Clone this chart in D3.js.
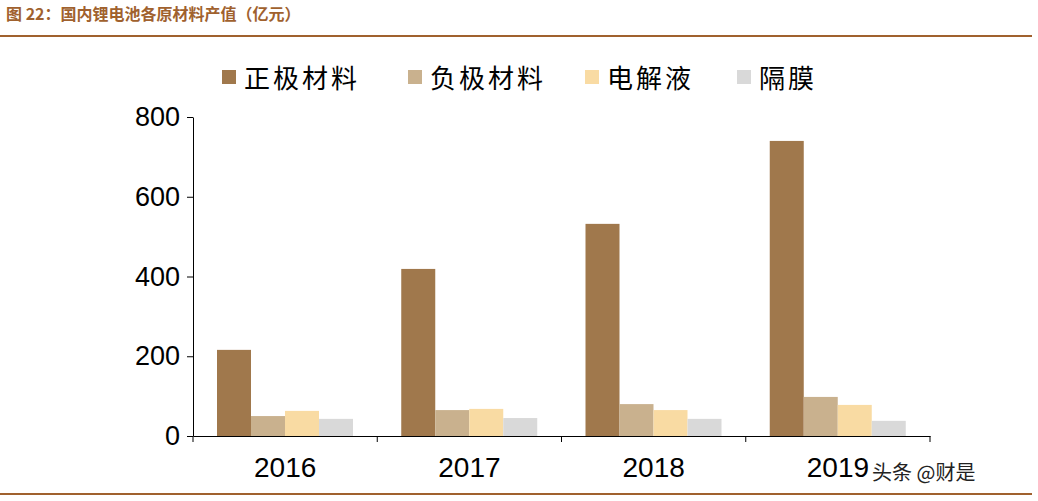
<!DOCTYPE html>
<html><head><meta charset="utf-8">
<script src="https://cdn.jsdelivr.net/npm/d3@7"></script>
<style>body{margin:0;background:#fff}</style></head>
<body><svg id="c" width="1038" height="501"></svg>
<script>
const categories=["2016","2017","2018","2019"];
const seriesNames=["正极材料","负极材料","电解液","隔膜"];
const cathode=[216,419,532,740];
const anode=[50,65,80,98];
const electrolyte=[63,68,65,78];
const separator=[43,45,43,38];
const yTicks=[0,200,400,600,800];
const colors=["#A0784C","#C9B18E","#F9DBA3","#D9D9D9"];
const series=[cathode,anode,electrolyte,separator];

const svg=d3.select("#c");
const font="Liberation Sans, Arial, sans-serif";
const cjk="Noto Sans CJK SC, sans-serif";
svg.append("text").attr("x",6).attr("y",20).attr("fill","#A0612E").attr("font-weight","bold")
 .attr("font-family",cjk).attr("font-size",16).text("图 22：国内锂电池各原材料产值（亿元）");
svg.append("line").attr("x1",0).attr("x2",1032).attr("y1",36).attr("y2",36).attr("stroke","#A0612E").attr("stroke-width",2);
svg.append("line").attr("x1",0).attr("x2",1032).attr("y1",494).attr("y2",494).attr("stroke","#A0612E").attr("stroke-width",2);

const x=d3.scaleBand().domain(categories).range([193,930]).paddingInner(0).paddingOuter(0);
const xs=d3.scaleBand().domain(d3.range(4)).range([24,160]).padding(0);
const y=d3.scaleLinear().domain([0,800]).range([436,117]);

const g=svg.append("g");
series.forEach((vals,si)=>{
 g.selectAll(null).data(vals).enter().append("rect")
  .attr("x",(d,i)=>x(categories[i])+xs(si)).attr("width",xs.bandwidth())
  .attr("y",d=>y(d)).attr("height",d=>y(0)-y(d)).attr("fill",colors[si]);
});
const ya=svg.append("g").attr("transform","translate(193,0)")
 .call(d3.axisLeft(y).tickValues(yTicks).tickSize(6).tickSizeOuter(0));
ya.selectAll("text").attr("font-family",font).attr("font-size",27).attr("fill","#000").attr("dx","-4");
const xa=svg.append("g").attr("transform","translate(0,436)")
 .call(d3.axisBottom(x).tickSize(0).tickSizeOuter(0));
xa.selectAll("text").attr("font-family",font).attr("font-size",28).attr("fill","#000").attr("dy","1.35em");
[...categories.map(c=>x(c)),930].forEach(v=>svg.append("line").attr("x1",v).attr("x2",v).attr("y1",436).attr("y2",442).attr("stroke","#000"));
svg.selectAll(".domain").attr("stroke","#000");
ya.selectAll(".tick line").attr("stroke","#000");

const lx=[222,408,585,737];
seriesNames.forEach((n,i)=>{
 svg.append("rect").attr("x",lx[i]).attr("y",70).attr("width",14).attr("height",14).attr("fill",colors[i]);
 svg.append("text").attr("x",lx[i]+22).attr("y",88).attr("font-family",cjk).attr("font-size",26).attr("letter-spacing",3).text(n);
});
svg.append("text").attr("x",872).attr("y",480).attr("font-family",cjk).attr("font-size",20).attr("fill","#222").text("头条 @财是");
</script></body></html>
